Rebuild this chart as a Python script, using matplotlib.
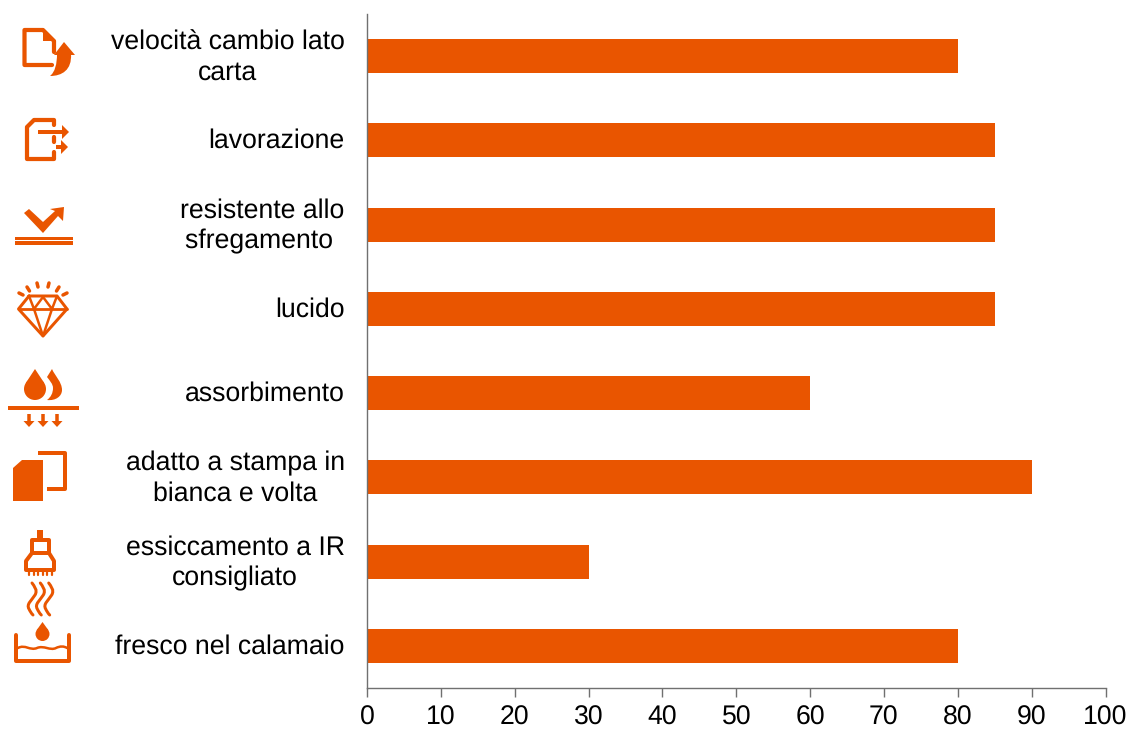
import matplotlib.pyplot as plt
from matplotlib.patches import Polygon, Circle, PathPatch
from matplotlib.path import Path
from matplotlib.transforms import ScaledTranslation

plt.rcParams['font.family'] = ['Liberation Sans', 'DejaVu Sans']
plt.rcParams['text.hinting'] = 'no_hinting'

etichette = ['velocità cambio lato\ncarta', 'lavorazione', 'resistente allo\nsfregamento ',
             'lucido', 'assorbimento', 'adatto a stampa in\nbianca e volta',
             'essiccamento a IR\nconsigliato', 'fresco nel calamaio']
valori = [80, 85, 85, 85, 60, 90, 30, 80]
tick_x = [0, 10, 20, 30, 40, 50, 60, 70, 80, 90, 100]

ARANCIO = '#E95500'
W, H = 1129, 729

fig = plt.figure(figsize=(W / 100, H / 100), dpi=100)
ax = fig.add_axes([367 / W, 1 - 688 / H, (1105.5 - 367) / W, (688 - 14) / H])
ax.barh(range(len(valori)), valori, height=0.405, color=ARANCIO)
ax.set_xlim(0, 100)
ax.set_ylim(len(valori) - 0.5, -0.5)
ax.set_xticks(tick_x)
ax.set_yticks(range(len(valori)))
ax.set_yticklabels(etichette, fontsize=19.2, multialignment='center', linespacing=1.28)
ax.tick_params(axis='y', length=0, pad=16)
ax.tick_params(axis='x', length=6.5, width=1, color='#707070', labelsize=19.2, pad=6)
for lab in ax.get_yticklabels():
    su = 0.04 if '\n' in lab.get_text() else 0.02
    lab.set_transform(lab.get_transform() + ScaledTranslation(0, su, fig.dpi_scale_trans))
for lato in ['top', 'right']:
    ax.spines[lato].set_visible(False)
for lato in ['left', 'bottom']:
    ax.spines[lato].set_color('#707070')
    ax.spines[lato].set_linewidth(1)

# icone a sinistra, disegnate in coordinate pixel
ic = fig.add_axes([0, 0, 1, 1])
ic.set_xlim(0, W)
ic.set_ylim(H, 0)
ic.axis('off')
ic.patch.set_alpha(0)


def linea(pts, lw=3.0, cap='round'):
    xs, ys = zip(*pts)
    ic.plot(xs, ys, color=ARANCIO, lw=lw * 0.72, solid_joinstyle='round', solid_capstyle=cap)


def pieno(pts):
    ic.add_patch(Polygon(pts, closed=True, fc=ARANCIO, ec='none'))


def curva(pts, codes, lw=None):
    # lw None = forma piena, altrimenti solo contorno
    if lw is None:
        ic.add_patch(PathPatch(Path(pts, codes), fc=ARANCIO, ec='none'))
    else:
        ic.add_patch(PathPatch(Path(pts, codes), fc='none', ec=ARANCIO, lw=lw * 0.72, capstyle='round'))


def freccia(x0, x1, y, lw=4.0):
    linea([(x0, y), (x1 - 5, y)], lw, 'butt')
    pieno([(x1 - 7, y - 7), (x1, y), (x1 - 7, y + 7)])


def freccia_giu(x, y0, y1):
    linea([(x, y0), (x, y1 - 4)], 3.5, 'butt')
    pieno([(x - 5.5, y1 - 6), (x + 5.5, y1 - 6), (x, y1)])


def goccia(cx, cy, r, top):
    d = cy - top
    ty = cy - r * r / d
    tx = r * (1 - (r / d) ** 2) ** 0.5
    ic.add_patch(Circle((cx, cy), r, fc=ARANCIO, ec='none'))
    pieno([(cx - tx, ty), (cx, top), (cx + tx, ty)])


C = Path.CURVE4
M = Path.MOVETO
L = Path.LINETO

# 1 cambio lato
linea([(54, 52), (54, 41), (43, 30), (24.5, 30), (24.5, 65), (52, 65)], 4.2)
pieno([(43, 29), (55, 41), (43, 41)])
pieno([(64, 42), (75, 55), (54, 55)])
curva([(50, 76), (62, 76), (72, 70), (71, 54), (57, 54), (57, 64), (55, 72), (50, 76)],
      [M, C, C, C, L, C, C, C])
# 2 lavorazione
linea([(54, 125), (54, 120), (34, 120), (27, 127), (27, 159), (54, 159), (54, 152)], 4.2)
linea([(54, 137), (54, 142)], 4.2)
freccia(38, 69, 132)
freccia(56, 68, 147)
# 3 sfregamento
pieno([(24, 213), (29, 209), (43, 222), (55, 211), (50, 209), (64, 207), (63, 221), (58, 216), (43, 233)])
pieno([(15, 237), (73, 237), (73, 239.5), (15, 239.5)])
pieno([(15, 241), (73, 241), (73, 245), (15, 245)])
# 4 diamante
top, mid, fondo = 296, 309, 336
linea([(29, top), (57, top), (67, mid), (43, fondo), (18.5, mid), (29, top)], 3)
linea([(18.5, mid), (67, mid)], 2.8)
linea([(29, top), (34, mid), (43, top + 1), (52, mid), (57, top)], 2.5)
linea([(34, mid), (43, fondo), (52, mid)], 2.5)
for a, b in [((19, 293), (23, 295)), ((27, 287), (29.5, 291)), ((37, 283), (38, 287)),
             ((49, 283), (48, 287)), ((59, 287), (56.5, 291)), ((67, 293), (63, 295))]:
    linea([a, b], 3.5)
# 5 assorbimento
goccia(35, 389, 11, 369)
curva([(52, 369), (55, 376), (62, 382), (62, 390), (62, 396), (56, 401), (47, 400),
       (51, 397), (53, 393), (53, 388), (53, 384), (50, 381), (47, 377), (52, 369)],
      [M, C, C, C, C, C, C, C, C, C, C, C, C, L])
pieno([(8, 406), (79, 406), (79, 410), (8, 410)])
for x in [29, 43, 57]:
    freccia_giu(x, 414, 427)
# 6 bianca e volta
pieno([(13, 468), (22, 460), (43, 460), (43, 501), (13, 501)])
linea([(38, 453), (65, 453), (65, 489), (47, 489)], 4, 'butt')
# 7 lampada IR
pieno([(37, 530), (43, 530), (43, 538), (37, 538)])
linea([(32, 553), (32, 540), (49, 540), (49, 553)], 4)
linea([(32, 553), (49, 553), (54, 561), (54, 570), (26, 570), (26, 561), (32, 553)], 4)
for x in [29, 33.5, 38, 42.5, 47, 51.5]:
    linea([(x, 571), (x, 575)], 2.2)
for dx in [0, 8.3, 16.7]:
    onda = [(32, 583), (34, 586), (38, 590), (35, 595), (32, 600), (26, 604), (29, 609),
            (30, 611), (31, 613), (33, 615)]
    curva([(x + dx, y) for x, y in onda], [M] + [C] * 9, lw=3)
# 8 calamaio
goccia(42.5, 634, 7, 622)
linea([(16, 635), (16, 660.5), (68.5, 660.5), (68.5, 635)], 4)
curva([(18, 648), (25, 644), (30, 651), (37, 648), (44, 645), (50, 651),
       (56, 648), (60, 646), (64, 646), (67, 648)], [M] + [C] * 9, lw=2.5)

fig.savefig('out.png', dpi=100)
